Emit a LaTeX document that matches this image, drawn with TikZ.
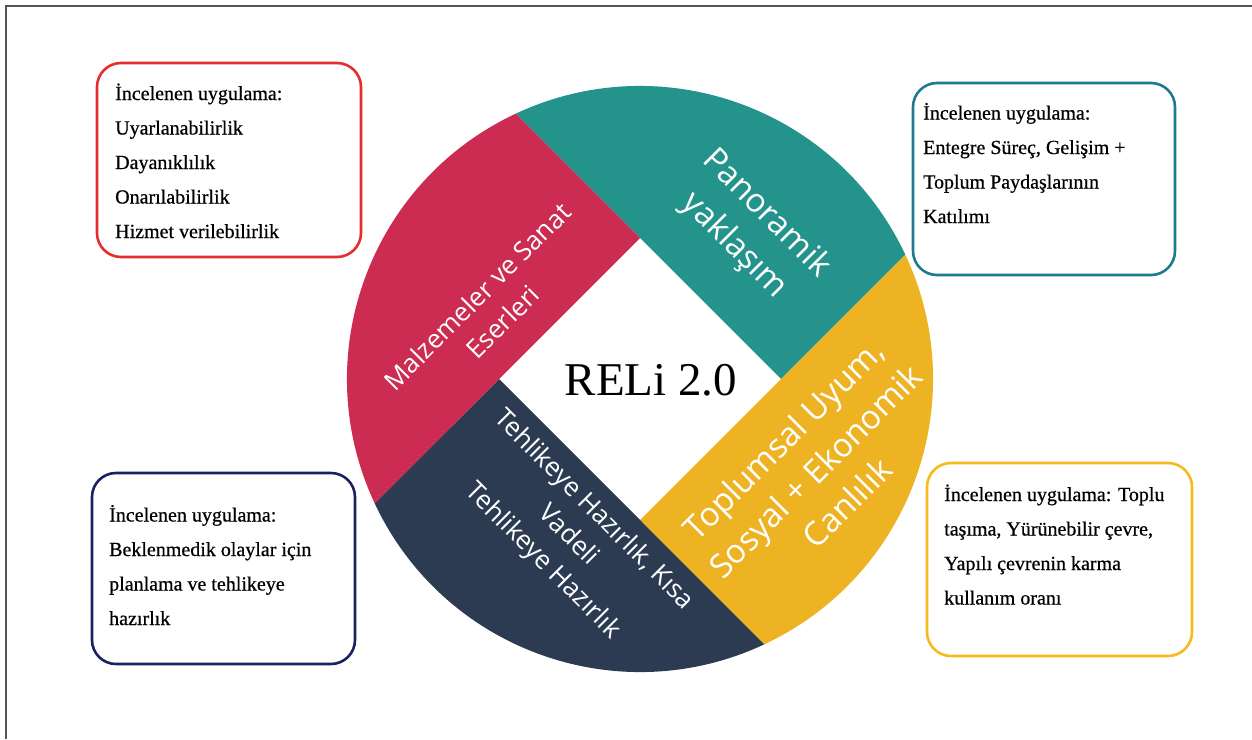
\documentclass[tikz,border=0pt]{standalone}
\usepackage{fontspec}
\setmainfont{Liberation Serif}
\newfontfamily\boxfont[FakeBold=0.6]{Liberation Serif}
\newfontfamily\segfont{Open Sans}
\usetikzlibrary{calc}
\definecolor{segred}{HTML}{CC2C51}
\definecolor{segteal}{HTML}{24938C}
\definecolor{segyellow}{HTML}{EEB322}
\definecolor{segnavy}{HTML}{2C3B52}
\definecolor{boxred}{HTML}{E52D2F}
\definecolor{boxteal}{HTML}{1F7A8F}
\definecolor{boxyellow}{HTML}{F6B91E}
\definecolor{boxnavy}{HTML}{1B2060}
\definecolor{framegray}{HTML}{555555}
\tikzset{
  infobox/.style={draw=#1, line width=2.6pt, rounded corners=24pt, fill=white},
  infotext/.style={anchor=base west, inner sep=0pt, align=left, text=black,
    font=\boxfont\fontsize{20}{34.5}\selectfont},
  segsmall/.style={text=white, align=center, inner sep=0pt,
    font=\segfont\fontsize{26}{36}\selectfont},
  seglarge/.style={text=white, align=center, inner sep=0pt,
    font=\segfont\fontsize{33}{45}\selectfont},
}
\begin{document}
\begin{tikzpicture}[x=1pt,y=1pt]
\useasboundingbox (0,0) rectangle (1252,-739);
% frame
\coordinate (fbl) at (5.5,-739);
\coordinate (ftl) at (5.5,-5.5);
\coordinate (ftr) at (1252,-5.5);
\draw[framegray, line width=2pt] (fbl) -- (ftl) -- (ftr);

% wheel
\def\R{293}
\coordinate (C) at (640,-379);
\coordinate (dT) at ($(C)+(0,141)$);
\coordinate (dR) at ($(C)+(141,0)$);
\coordinate (dB) at ($(C)+(0,-141)$);
\coordinate (dL) at ($(C)+(-141,0)$);
\coordinate (pT) at ($(C)+(115.1:\R)$);
\coordinate (pR) at ($(C)+(25.1:\R)$);
\coordinate (pB) at ($(C)+(-64.9:\R)$);
\coordinate (pL) at ($(C)+(205.1:\R)$);

\fill[segteal] (dT) -- (pT) arc[start angle=115.1, end angle=25.1, radius=\R] -- (dR) -- cycle;
\fill[segyellow] (dR) -- (pR) arc[start angle=25.1, end angle=-64.9, radius=\R] -- (dB) -- cycle;
\fill[segnavy] (dB) -- (pB) arc[start angle=-64.9, end angle=-154.9, radius=\R] -- (dL) -- cycle;
\fill[segred] (dL) -- (pL) arc[start angle=205.1, end angle=115.1, radius=\R] -- (dT) -- cycle;

\node[segsmall, rotate=45] (tred) at (490,-309) {Malzemeler ve Sanat\\Eserleri};
\node[seglarge, rotate=-45] (tteal) at (750,-230) {Panoramik\\yaklaşım};
\node[seglarge, rotate=45] (tyellow) at (815,-471) {Toplumsal Uyum,\\Sosyal + Ekonomik\\Canlılık};
\node[segsmall, rotate=-45] (tnavy) at (568,-536) {Tehlikeye Hazırlık, Kısa\\Vadeli\\Tehlikeye Hazırlık};

\node[anchor=base, inner sep=0pt, font=\fontsize{47}{50}\selectfont] (reli) at (651,-395) {RELi 2.0};

% boxes (text anchored at the baseline of its last line)
\draw[infobox=boxred] (97,-63) rectangle (361,-257);
\node[infotext] (bred) at (115,-238) {İncelenen uygulama:\\Uyarlanabilirlik\\Dayanıklılık\\Onarılabilirlik\\Hizmet verilebilirlik};

\draw[infobox=boxteal] (913,-83) rectangle (1175,-275);
\node[infotext] (bteal) at (923,-223) {İncelenen uygulama:\\Entegre Süreç, Gelişim +\\Toplum Paydaşlarının\\Katılımı};

\draw[infobox=boxyellow] (927,-463) rectangle (1192,-656);
\node[infotext] (byellow) at (944,-604.5) {İncelenen uygulama: Toplu\\taşıma, Yürünebilir çevre,\\Yapılı çevrenin karma\\kullanım oranı};

\draw[infobox=boxnavy] (92,-473) rectangle (355,-664);
\node[infotext] (bnavy) at (109,-625) {İncelenen uygulama:\\Beklenmedik olaylar için\\planlama ve tehlikeye\\hazırlık};
\end{tikzpicture}
\end{document}
